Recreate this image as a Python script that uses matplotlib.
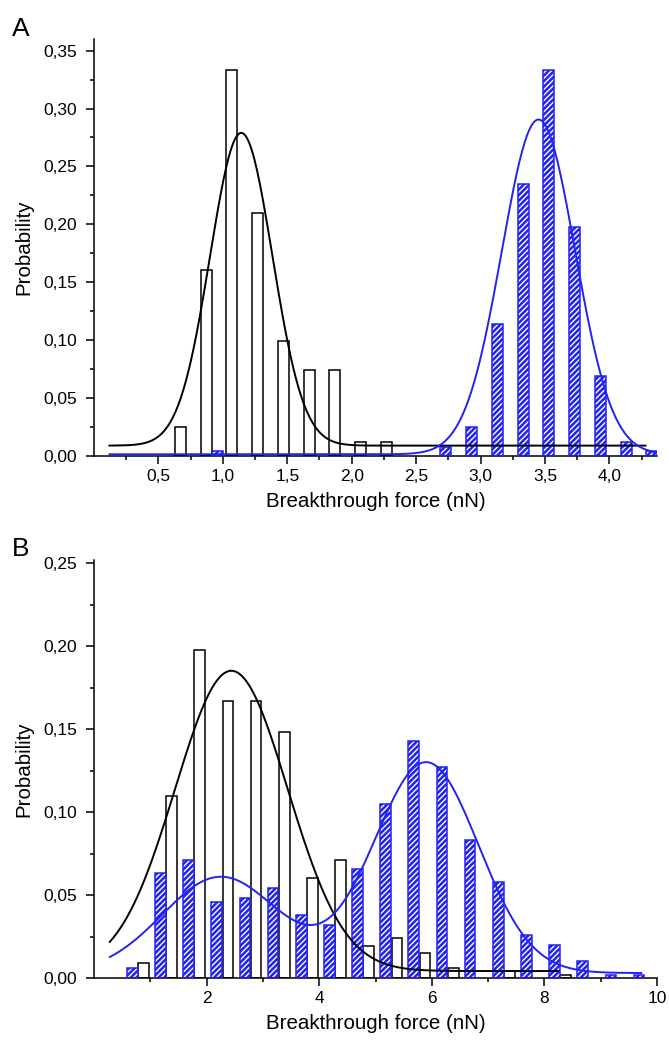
import numpy as np
import matplotlib
matplotlib.use('Agg')
import matplotlib.pyplot as plt
from matplotlib.ticker import FuncFormatter, MultipleLocator, FixedLocator

plt.rcParams['font.family'] = ['Liberation Sans', 'DejaVu Sans']
plt.rcParams['hatch.linewidth'] = 1.0

BLUE = '#2222f4'

# panel A histogram (bin centres, probability)
a_black_x = [0.67, 0.87, 1.07, 1.27, 1.47, 1.67, 1.87, 2.07, 2.27]
a_black_p = [0.025, 0.161, 0.333, 0.210, 0.099, 0.074, 0.074, 0.012, 0.012]
a_blue_x = [0.96, 2.73, 2.93, 3.13, 3.33, 3.53, 3.73, 3.93, 4.13, 4.33]
a_blue_p = [0.004, 0.008, 0.025, 0.114, 0.235, 0.333, 0.198, 0.069, 0.012, 0.004]

# panel B histogram
b_black_x = [0.88, 1.38, 1.88, 2.38, 2.88, 3.38, 3.88, 4.38, 4.88, 5.38, 5.88, 6.38, 7.38, 8.38]
b_black_p = [0.009, 0.110, 0.198, 0.167, 0.167, 0.148, 0.060, 0.071, 0.019, 0.024, 0.015, 0.006, 0.004, 0.002]
b_blue_x = [0.68, 1.18, 1.68, 2.18, 2.68, 3.18, 3.68, 4.18, 4.68, 5.18, 5.68, 6.18, 6.68, 7.18,
            7.68, 8.18, 8.68, 9.18, 9.68]
b_blue_p = [0.006, 0.063, 0.071, 0.046, 0.048, 0.054, 0.038, 0.032, 0.066, 0.105, 0.143, 0.127,
            0.083, 0.058, 0.026, 0.020, 0.010, 0.002, 0.002]

# gaussian fit results: (offset, [(amplitude, centre, sigma), ...], x range)
a_black_fit = (0.009, [(0.270, 1.143, 0.242)], (0.12, 4.28))
a_blue_fit = (0.0015, [(0.289, 3.45, 0.285)], (0.12, 4.35))
b_black_fit = (0.0042, [(0.181, 2.44, 1.00)], (0.28, 8.25))
b_blue_fit = (0.003, [(0.058, 2.25, 1.04), (0.127, 5.90, 0.93)], (0.28, 9.72))


def fit_curve(fit):
    y0, peaks, (x0, x1) = fit
    x = np.linspace(x0, x1, 400)
    y = np.full_like(x, y0)
    for amp, xc, w in peaks:
        y += amp * np.exp(-0.5 * ((x - xc) / w) ** 2)
    return x, y


def draw_hist(ax, bx, bp, ux, up, width):
    ax.bar(bx, bp, width=width, facecolor='white', edgecolor='black', linewidth=1.1, zorder=2)
    ax.bar(ux, up, width=width, facecolor=BLUE, edgecolor='white', hatch='//////', linewidth=0, zorder=2)
    ax.bar(ux, up, width=width, fill=False, edgecolor=BLUE, linewidth=1.1, zorder=3)


def style_axes(ax, xfmt):
    for s in ['top', 'right']:
        ax.spines[s].set_visible(False)
    for s in ['left', 'bottom']:
        ax.spines[s].set_linewidth(1.1)
    ax.tick_params(which='major', direction='out', length=5.8, width=1.1, pad=3.5, labelsize=12.5)
    ax.tick_params(axis='y', which='major', pad=6.5)
    ax.tick_params(which='minor', direction='out', length=3.2, width=1.1)
    ax.yaxis.set_major_locator(MultipleLocator(0.05))
    ax.yaxis.set_minor_locator(MultipleLocator(0.025))
    ax.yaxis.set_major_formatter(FuncFormatter(lambda v, p: f"{v:.2f}".replace('.', ',')))
    ax.xaxis.set_major_formatter(FuncFormatter(lambda v, p: xfmt.format(v).replace('.', ',')))
    ax.set_xlabel('Breakthrough force (nN)', fontsize=14.8, labelpad=6)
    ax.set_ylabel('Probability', fontsize=14.8, labelpad=7)


fig = plt.figure(figsize=(6.69, 10.4), dpi=100)

axA = fig.add_axes([0.1405, 0.5615, 0.8416, 0.401])
draw_hist(axA, a_black_x, a_black_p, a_blue_x, a_blue_p, 0.085)
x, y = fit_curve(a_black_fit)
axA.plot(x, y, color='black', lw=1.4, zorder=4)
x, y = fit_curve(a_blue_fit)
axA.plot(x, y, color=BLUE, lw=1.4, zorder=4)
axA.set_xlim(0, 4.37)
axA.set_ylim(0, 0.36)
axA.xaxis.set_major_locator(FixedLocator(np.arange(0.5, 4.01, 0.5)))
axA.xaxis.set_minor_locator(FixedLocator(np.arange(0.25, 4.3, 0.5)))
style_axes(axA, "{:.1f}")

axB = fig.add_axes([0.1405, 0.0596, 0.8416, 0.402])
draw_hist(axB, b_black_x, b_black_p, b_blue_x, b_blue_p, 0.19)
x, y = fit_curve(b_black_fit)
axB.plot(x, y, color='black', lw=1.4, zorder=4)
x, y = fit_curve(b_blue_fit)
axB.plot(x, y, color=BLUE, lw=1.4, zorder=4)
axB.set_xlim(0, 10)
axB.set_ylim(0, 0.252)
axB.xaxis.set_major_locator(FixedLocator([2, 4, 6, 8, 10]))
axB.xaxis.set_minor_locator(FixedLocator([1, 3, 5, 7, 9]))
style_axes(axB, "{:.0f}")

fig.text(0.018, 1 - 17 / 1040, 'A', fontsize=19, va='top')
fig.text(0.018, 1 - 537 / 1040, 'B', fontsize=19, va='top')

fig.savefig('out.png', dpi=100)
